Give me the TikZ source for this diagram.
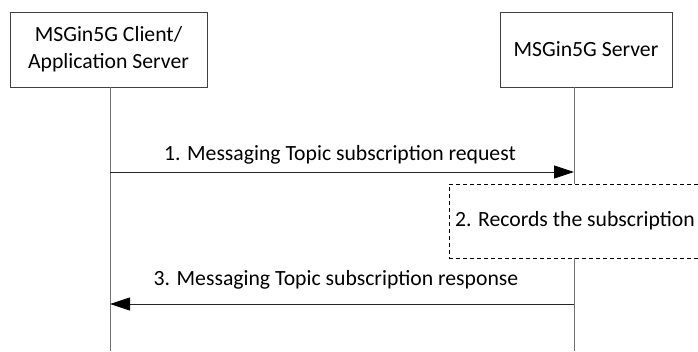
\documentclass[tikz,border=0pt]{standalone}
\usepackage{fontspec}
\setmainfont{Carlito}
\usetikzlibrary{arrows.meta}
\begin{document}
\begin{tikzpicture}[x=1pt,y=1pt,
  actor/.style={draw=black!75,line width=0.8pt,fill=white,align=center,font=\fontsize{21.7}{27}\selectfont,inner sep=0pt},
  life/.style={draw=black!55,line width=1pt},
  msg/.style={draw=black!85,line width=0.8pt,-{Triangle[length=20pt,width=13pt,color=black]}},
  lbl/.style={font=\fontsize{21.7}{27}\selectfont,inner sep=0pt},
  proc/.style={draw=black,dash pattern=on 4pt off 3pt,line width=0.7pt,fill=white,font=\fontsize{21.7}{27}\selectfont,inner sep=0pt}]
\useasboundingbox (0,0) rectangle (698,-351);
\node[actor,minimum width=197pt,minimum height=75pt] (A) at (108.5,-49.5) {MSGin5G Client/\\Application Server};
\node[actor,minimum width=172pt,minimum height=75pt] (B) at (586,-49.5) {MSGin5G Server};
\coordinate (Aend) at (110,-351);
\coordinate (Bend) at (574,-351);
\coordinate (Atop) at (110,-87);
\coordinate (Btop) at (574,-87);
\draw[life] (Atop) -- (Aend);
\draw[life] (Btop) -- (Bend);
\coordinate (m1s) at (110,-172);
\coordinate (m1e) at (574,-172);
\draw[msg] (m1s) -- (m1e);
\node[lbl] (l1) at (340,-155) {1. Messaging Topic subscription request};
\node[proc,minimum width=252pt,minimum height=74pt] (P) at (575,-221) {2. Records the subscription};
\coordinate (m3s) at (574,-304);
\coordinate (m3e) at (110,-304);
\draw[msg] (m3s) -- (m3e);
\node[lbl] (l3) at (336,-280) {3. Messaging Topic subscription response};
\end{tikzpicture}
\end{document}
